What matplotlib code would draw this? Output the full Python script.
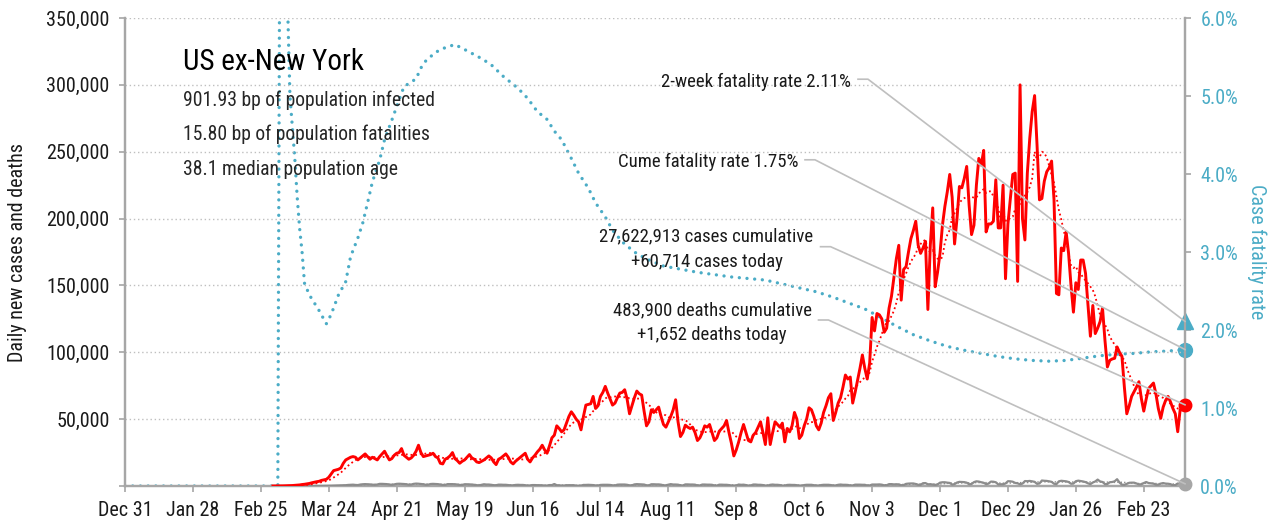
import numpy as np
import pandas as pd
import matplotlib
matplotlib.use('Agg')
import matplotlib.pyplot as plt
import matplotlib.dates as mdates
from matplotlib.lines import Line2D
from matplotlib.ticker import FuncFormatter, MultipleLocator

plt.rcParams['font.family'] = ['Roboto Condensed', 'DejaVu Sans']

# daily new cases, thousands, from 2020-03-01
cases_start = '2020-03-01'
cases_k = [
    # Mar 2020
    0.03, 0.03, 0.05, 0.07, 0.1, 0.15, 0.2, 0.25, 0.35, 0.5,
    0.6, 0.8, 1.1, 1.3, 1.6, 1.9, 2.4, 2.8, 3.2, 3.5,
    4.2, 4.6, 5.0, 6.5, 9.0, 11.5, 12.0, 12.5, 13.5, 17.0, 19.5,
    # Apr
    20.5, 21.5, 22.0, 21.5, 19.5, 21.0, 22.5, 24.0, 22.0, 20.0,
    21.5, 20.5, 19.5, 22.0, 24.0, 26.0, 22.5, 19.5, 20.5, 23.0,
    24.5, 25.0, 28.0, 23.0, 21.5, 20.0, 21.0, 23.0, 26.0, 30.5,
    # May
    25.0, 22.0, 22.5, 23.0, 23.5, 24.5, 22.0, 21.0, 17.0, 16.5,
    20.0, 21.0, 22.5, 25.0, 20.5, 19.0, 17.0, 18.5, 19.5, 21.5,
    23.5, 21.0, 20.0, 18.0, 17.5, 18.5, 19.5, 21.0, 22.5, 21.0, 18.0,
    # Jun
    16.0, 20.0, 21.0, 22.5, 24.0, 21.5, 18.0, 16.5, 18.5, 20.0,
    21.5, 23.0, 24.5, 20.0, 18.0, 21.0, 23.0, 25.5, 27.5, 30.5,
    27.0, 24.5, 30.0, 36.0, 38.0, 45.0, 43.0, 40.5, 42.0, 47.0,
    # Jul
    52.0, 55.5, 53.0, 50.0, 48.0, 42.0, 52.0, 60.5, 61.0, 61.5,
    67.0, 58.0, 60.0, 67.0, 70.0, 74.5, 69.5, 65.0, 60.5, 62.0,
    66.0, 69.5, 70.0, 72.0, 65.0, 54.0, 60.0, 66.0, 71.0, 69.0, 68.0,
    # Aug
    56.0, 45.0, 48.0, 57.0, 55.0, 57.0, 59.0, 52.0, 46.0, 44.0,
    48.0, 52.0, 57.0, 64.5, 48.0, 37.0, 40.0, 45.5, 44.0, 43.0,
    44.0, 40.0, 34.0, 36.0, 40.0, 45.0, 44.0, 46.0, 40.0, 34.0, 36.0,
    # Sep
    41.0, 43.0, 45.0, 49.0, 40.0, 32.0, 22.5, 27.0, 33.0, 40.0,
    46.0, 40.0, 34.0, 33.0, 38.0, 40.0, 44.0, 48.0, 40.0, 31.0,
    51.0, 31.0, 40.0, 48.0, 46.0, 44.0, 47.0, 33.0, 43.0, 40.5,
    # Oct
    45.0, 55.0, 50.0, 35.5, 38.0, 45.0, 50.0, 58.5, 57.0, 52.0,
    45.0, 42.0, 47.0, 55.0, 60.0, 66.0, 69.0, 49.0, 55.0, 62.0,
    66.0, 74.0, 83.0, 80.0, 81.5, 62.0, 70.0, 79.0, 88.0, 98.0, 88.0,
    # Nov
    80.0, 92.0, 126.0, 116.0, 129.0, 128.0, 125.0, 115.0, 118.0, 133.0,
    142.0, 156.0, 170.0, 180.0, 139.0, 162.0, 164.0, 175.0, 185.0, 191.0,
    198.0, 180.0, 174.0, 178.0, 183.0, 132.0, 180.0, 208.0, 149.0, 160.0,
    # Dec
    174.0, 195.0, 209.0, 220.0, 233.0, 216.0, 181.0, 200.0, 224.0, 223.0,
    230.0, 239.0, 210.0, 188.0, 195.0, 225.0, 245.0, 240.0, 251.0, 190.0,
    196.0, 196.0, 198.0, 229.0, 193.0, 193.0, 225.0, 155.0, 196.0, 215.0, 233.0,
    # Jan 2021
    234.0, 153.0, 300.0, 200.0, 184.0, 234.0, 260.0, 280.0, 292.0, 255.0,
    214.0, 215.0, 228.0, 235.0, 238.0, 243.0, 214.0, 144.0, 143.0, 178.0,
    176.0, 190.0, 174.0, 150.0, 130.0, 152.0, 147.0, 169.0, 169.0, 159.0, 135.0,
    # Feb
    112.0, 135.0, 114.0, 118.0, 123.0, 133.0, 109.0, 89.0, 94.0, 95.0,
    95.5, 104.0, 100.0, 97.0, 74.0, 54.0, 60.0, 67.0, 70.5, 74.0,
    78.0, 65.5, 56.0, 65.0, 73.0, 75.0, 77.0, 69.0,
    # Mar
    58.0, 50.6, 59.0, 64.0, 67.0, 63.0, 58.0, 54.0, 40.6, 57.0, 57.0, 60.714,
]

# daily new deaths, thousands, from 2020-03-01
deaths_k = [
    0, 0, 0, 0, 0, 0, 0, 0.005, 0.005, 0.01,
    0.01, 0.01, 0.015, 0.02, 0.02, 0.03, 0.04, 0.05, 0.06, 0.08,
    0.1, 0.12, 0.15, 0.2, 0.25, 0.3, 0.35, 0.4, 0.45, 0.5, 0.6,
    0.8, 0.9, 1.0, 0.8, 0.7, 1.1, 1.3, 1.4, 1.3, 1.2,
    1.0, 0.9, 1.1, 1.6, 1.6, 1.5, 1.4, 1.1, 0.9, 1.2,
    1.6, 1.7, 1.6, 1.5, 1.3, 1.0, 1.1, 1.6, 1.8, 1.7,
    1.5, 1.3, 0.9, 1.0, 1.5, 1.6, 1.5, 1.4, 1.1, 0.8,
    0.8, 1.4, 1.4, 1.4, 1.3, 1.1, 0.8, 0.8, 1.3, 1.3,
    1.2, 1.1, 0.9, 0.6, 0.5, 0.9, 1.3, 1.1, 1.1, 0.9, 0.6,
    0.6, 1.0, 1.0, 0.9, 0.9, 0.7, 0.5, 0.5, 0.8, 0.9,
    0.8, 0.8, 0.6, 0.3, 0.4, 0.7, 0.7, 0.6, 0.6, 0.5,
    0.3, 0.3, 0.7, 0.7, 1.5, 0.6, 0.5, 0.3, 0.3, 0.6,
    0.6, 0.6, 0.6, 0.2, 0.2, 0.3, 0.8, 0.8, 0.9, 0.8,
    0.7, 0.4, 0.4, 0.8, 0.9, 0.9, 0.9, 0.8, 0.5, 0.4,
    1.0, 1.1, 1.1, 1.1, 0.9, 0.5, 0.5, 1.2, 1.4, 1.3, 1.2,
    1.1, 0.5, 0.5, 1.3, 1.3, 1.2, 1.2, 1.0, 0.5, 0.5,
    1.0, 1.4, 1.1, 1.1, 1.0, 0.5, 0.4, 1.2, 1.2, 1.1,
    1.1, 1.0, 0.4, 0.4, 1.1, 1.1, 1.0, 1.0, 0.9, 0.4, 0.3,
    1.0, 1.0, 0.9, 0.9, 0.7, 0.4, 0.3, 0.4, 1.1, 0.9,
    1.0, 0.7, 0.3, 0.4, 1.1, 1.1, 0.9, 0.9, 0.7, 0.3,
    0.3, 0.9, 1.1, 0.9, 0.9, 0.7, 0.3, 0.3, 0.8, 0.9,
    0.8, 0.8, 0.6, 0.3, 0.3, 0.7, 0.9, 0.9, 0.9, 0.6,
    0.4, 0.3, 0.7, 0.9, 0.9, 0.9, 0.7, 0.4, 0.4, 0.9,
    1.1, 0.9, 0.9, 0.8, 0.4, 0.4, 1.0, 1.0, 1.0, 0.9, 0.9,
    0.4, 0.4, 1.1, 1.1, 1.1, 1.2, 1.0, 0.5, 0.6, 1.4,
    1.4, 1.2, 1.3, 1.2, 0.6, 0.7, 1.6, 1.8, 1.9, 1.9,
    1.5, 0.9, 0.9, 2.1, 2.2, 1.3, 1.3, 1.1, 0.8, 1.2,
    2.5, 2.8, 2.8, 2.5, 2.3, 1.1, 1.4, 2.6, 3.1, 3.0,
    2.9, 2.5, 1.3, 1.5, 2.9, 3.5, 3.3, 2.8, 2.4, 1.4,
    1.8, 3.3, 3.2, 2.8, 1.2, 1.3, 1.3, 1.9, 3.6, 3.5, 3.2,
    2.3, 2.0, 1.3, 1.8, 3.7, 3.6, 3.8, 3.5, 3.1, 1.6,
    1.9, 4.1, 3.9, 3.8, 3.5, 3.1, 1.7, 1.4, 3.5, 3.9,
    3.7, 3.5, 3.0, 1.7, 1.8, 3.6, 4.0, 3.7, 3.4, 2.9, 2.0,
    1.4, 2.6, 3.4, 4.8, 3.4, 3.0, 1.4, 1.5, 2.8, 3.0,
    3.5, 5.1, 2.6, 1.0, 0.9, 1.6, 2.4, 2.5, 2.5, 1.9,
    1.2, 1.3, 2.2, 3.0, 2.2, 2.0, 1.8, 1.0,
    1.0, 1.8, 2.2, 1.8, 1.7, 1.4, 0.6, 0.7, 1.9, 1.5, 1.6, 1.652,
]

# cumulative case fatality rate, %
cfr_dates = [
    '2019-12-31', '2020-03-03', '2020-03-04', '2020-03-05', '2020-03-06',
    '2020-03-07', '2020-03-08', '2020-03-09', '2020-03-10', '2020-03-11',
    '2020-03-12', '2020-03-13', '2020-03-14', '2020-03-16', '2020-03-18',
    '2020-03-20', '2020-03-23', '2020-03-25', '2020-03-28', '2020-03-31',
    '2020-04-02', '2020-04-05', '2020-04-07', '2020-04-09', '2020-04-11',
    '2020-04-14', '2020-04-16', '2020-04-19', '2020-04-22', '2020-04-24',
    '2020-04-27', '2020-04-29', '2020-05-01', '2020-05-03', '2020-05-07',
    '2020-05-11', '2020-05-15', '2020-05-20', '2020-05-26', '2020-05-30',
    '2020-06-04', '2020-06-10', '2020-06-14', '2020-06-18', '2020-06-22',
    '2020-06-25', '2020-06-28', '2020-07-02', '2020-07-05', '2020-07-09',
    '2020-07-12', '2020-07-16', '2020-07-19', '2020-07-23', '2020-07-28',
    '2020-08-02', '2020-08-09', '2020-08-16', '2020-08-23', '2020-08-30',
    '2020-09-06', '2020-09-13', '2020-09-20', '2020-09-27', '2020-10-04',
    '2020-10-11', '2020-10-18', '2020-10-24', '2020-10-31', '2020-11-06',
    '2020-11-13', '2020-11-20', '2020-11-27', '2020-12-04', '2020-12-11',
    '2020-12-18', '2020-12-25', '2021-01-01', '2021-01-08', '2021-01-15',
    '2021-01-22', '2021-01-29', '2021-02-05', '2021-02-12', '2021-02-19',
    '2021-02-26', '2021-03-05', '2021-03-12',
]
cfr_pct = [
    0.0, 0.0, 9.0, 8.0, 7.0,
    6.2, 5.0, 4.6, 4.2, 3.7,
    3.3, 3.0, 2.6, 2.45, 2.35,
    2.25, 2.08, 2.2, 2.45, 2.62,
    2.94, 3.18, 3.37, 3.63, 3.9,
    4.18, 4.44, 4.69, 4.95, 5.12,
    5.18, 5.22, 5.36, 5.45, 5.56,
    5.62, 5.66, 5.58, 5.48, 5.40,
    5.25, 5.10, 4.97, 4.80, 4.70,
    4.55, 4.44, 4.20, 4.01, 3.82,
    3.63, 3.45, 3.28, 3.13, 3.00,
    2.91, 2.82, 2.78, 2.74, 2.71,
    2.68, 2.66, 2.64, 2.59, 2.54,
    2.49, 2.42, 2.35, 2.27, 2.17,
    2.05, 1.94, 1.86, 1.79, 1.74,
    1.70, 1.66, 1.63, 1.61, 1.60,
    1.61, 1.64, 1.67, 1.69, 1.70,
    1.72, 1.73, 1.75,
]
two_week_cfr = 2.11

title = 'US ex-New York'
info_lines = ['901.93 bp of population infected',
              '15.80 bp of population fatalities',
              '38.1 median population age']
note_2wk = '2-week fatality rate 2.11%'
note_cume = 'Cume fatality rate 1.75%'
note_cases = ['27,622,913 cases cumulative', '+60,714 cases today']
note_deaths = ['483,900 deaths cumulative', '+1,652 deaths today']

RED = '#ff0000'
BLUE = '#4bacc6'
GREY = '#a6a6a6'
LEAD = '#bfbfbf'
INK = '#1a1a1a'

W, H = 1273, 527
fig = plt.figure(figsize=(W / 100, H / 100), dpi=100)
ax = fig.add_axes([125 / W, 1 - 486 / H, (1185 - 125) / W, (486 - 18) / H])
ax2 = ax.twinx()
ax.set_zorder(ax2.get_zorder() + 1)
ax.patch.set_visible(False)

cases = pd.Series(np.array(cases_k) * 1000,
                  index=pd.date_range(cases_start, periods=len(cases_k)))
deaths = pd.Series(np.array(deaths_k) * 1000,
                   index=pd.date_range(cases_start, periods=len(deaths_k)))
cfr = pd.Series(cfr_pct, index=pd.to_datetime(cfr_dates))

# main series
ax.plot(deaths.index, deaths.values, color='#8c8c8c', lw=1.6, zorder=3)
ax.plot(deaths.index, deaths.rolling(7).mean().values, color='#8c8c8c', lw=1.0,
        linestyle=(0, (1, 1.5)), zorder=3)
ax.plot(cases.index, cases.rolling(7).mean().values, color=RED, lw=1.3,
        linestyle=(0, (1, 1.6)), zorder=4)
ax.plot(cases.index, cases.values, color=RED, lw=2.1, zorder=5)
ax2.plot(cfr.index, cfr.values, color=BLUE, lw=2.4,
         linestyle=(0, (0.01, 2.3)), dash_capstyle='round')

end = cases.index[-1]
ax.plot(end, cases.iloc[-1], 'o', color=RED, ms=9, clip_on=False, zorder=6)
ax.plot(end, deaths.iloc[-1], 'o', color=GREY, ms=9, clip_on=False, zorder=6)
ax2.plot(end, cfr.iloc[-1], 'o', color=BLUE, ms=10, clip_on=False, zorder=6)
ax2.plot(end, two_week_cfr, '^', color=BLUE, ms=11, clip_on=False, zorder=6)

# axes
x0 = pd.Timestamp('2019-12-31')
ax.set_xlim(x0, end)
ax.set_ylim(0, 350000)
ax2.set_ylim(0, 6)
xt = pd.date_range(x0, end, freq='28D')
ax.set_xticks(xt)
ax.set_xticklabels([f'{d:%b} {d.day}' for d in xt])
ax.yaxis.set_major_locator(MultipleLocator(50000))
ax.yaxis.set_major_formatter(FuncFormatter(lambda v, p: '' if v == 0 else f'{v:,.0f}'))
ax2.yaxis.set_major_locator(MultipleLocator(1))
ax2.yaxis.set_major_formatter(FuncFormatter(lambda v, p: f'{v:.1f}%'))

ax.yaxis.grid(True, linestyle=(0, (1, 2)), color='#bfbfbf', lw=1.0)
ax.set_axisbelow(True)
for a in (ax, ax2):
    a.spines['top'].set_visible(False)
    for s in ('left', 'right', 'bottom'):
        a.spines[s].set_color(GREY)
        a.spines[s].set_linewidth(1.6)
ax.tick_params(axis='both', direction='out', length=4, width=1.2, color=GREY,
               labelsize=14.5, labelcolor=INK)
ax.tick_params(axis='y', pad=7)
ax.tick_params(axis='x', pad=7)
ax2.tick_params(axis='y', direction='out', length=4, width=1.2, color=GREY,
                labelsize=14.5, labelcolor=BLUE, pad=7)


def fpos(px, py):
    return px / W, 1 - py / H


fig.text(*fpos(18, 252), 'Daily new cases and deaths', fontsize=14.5, color=INK,
         rotation=90, ha='center', va='center')
fig.text(*fpos(1257, 252), 'Case fatality rate', fontsize=14.5, color=BLUE,
         rotation=270, ha='center', va='center')

fig.text(*fpos(183, 70), title, fontsize=21, ha='left', va='baseline', color='#000000')
for line, base in zip(info_lines, (106, 140, 175)):
    fig.text(*fpos(183, base), line, fontsize=14.1, ha='left', va='baseline', color='#262626')

t_2wk = fig.text(*fpos(851, 86.7), note_2wk, fontsize=13.5, ha='right', va='baseline', color=INK)
t_cume = fig.text(*fpos(798, 167.3), note_cume, fontsize=13.5, ha='right', va='baseline', color=INK)
t_cases = [fig.text(*fpos(706.5, b), s, fontsize=13.5, ha='center', va='baseline', color=INK)
           for s, b in zip(note_cases, (241.7, 266.7))]
t_deaths = [fig.text(*fpos(712, b), s, fontsize=13.5, ha='center', va='baseline', color=INK)
            for s, b in zip(note_deaths, (315, 340))]

fig.canvas.draw()
rend = fig.canvas.get_renderer()
inv = fig.transFigure.inverted()


def leader(texts, y_px, axis, xv, yv):
    x1 = max(t.get_window_extent(rend).x1 for t in texts)
    ys = H - y_px
    xe, ye = axis.transData.transform((mdates.date2num(xv), yv))
    pts = inv.transform([(x1 + 7, ys), (x1 + 17, ys), (xe, ye)])
    fig.add_artist(Line2D(pts[:, 0], pts[:, 1], color=LEAD, lw=1.2, zorder=3))


leader([t_2wk], 86.7 - 7.5, ax2, end, two_week_cfr)
leader([t_cume], 167.3 - 7.5, ax2, end, cfr.iloc[-1])
leader(t_cases, 254.2 - 7.5, ax, end, cases.iloc[-1])
leader(t_deaths, 327.5 - 7.5, ax, end, deaths.iloc[-1])

fig.savefig('out.png', dpi=100)
